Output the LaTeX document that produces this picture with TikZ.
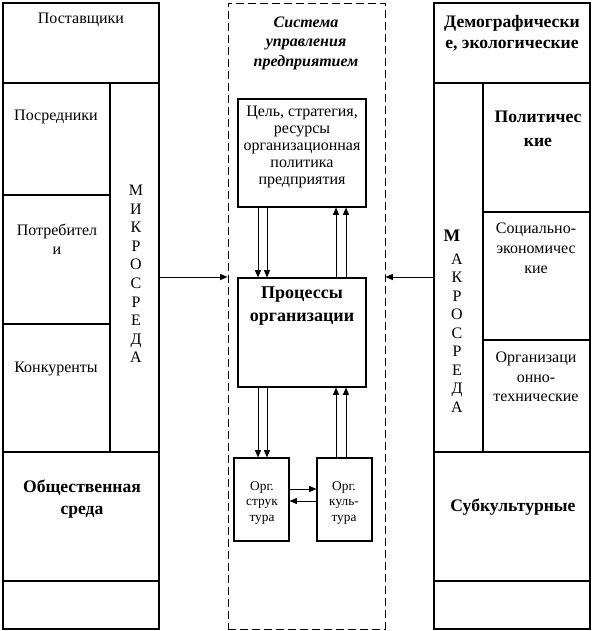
\documentclass[tikz,border=0pt]{standalone}
\usepackage{fontspec}
\setmainfont{Liberation Serif}
\usetikzlibrary{positioning,arrows.meta,fit}
\tikzset{
  cell/.style={draw, line width=0.8pt, inner sep=0pt},
  sysbox/.style={draw, line width=0.7pt, dash pattern=on 6pt off 3pt, inner sep=0pt},
  txt/.style={align=center, inner sep=0pt, font=\fontsize{12}{14}\selectfont},
  btxt/.style={align=center, inner sep=0pt, font=\bfseries\fontsize{13.2}{16.5}\selectfont},
  smtxt/.style={align=center, inner sep=0pt, font=\fontsize{10}{11.3}\selectfont},
  vert/.style={align=center, inner sep=0pt, font=\fontsize{12}{13.9}\selectfont},
  ttl/.style={align=center, inner sep=0pt, font=\bfseries\itshape\fontsize{12}{14.6}\selectfont},
  arr/.style={line width=0.7pt, -{Triangle[length=5.5pt,width=4.5pt]}},
}
\begin{document}
\begin{tikzpicture}[x=0.75pt, y=-0.75pt]
  \useasboundingbox (0,0) rectangle (594,631);
  % left column: micro environment
  \node[cell, fit={(3,3) (159,83)}] (post) {};
  \node[cell, fit={(3,83) (110,195)}] (posr) {};
  \node[cell, fit={(3,195) (110,324)}] (potr) {};
  \node[cell, fit={(3,324) (110,452)}] (konk) {};
  \node[cell, fit={(110,83) (159,452)}] (mikro) {};
  \node[cell, fit={(3,452) (159,581)}] (obsh) {};
  \node[cell, fit={(3,581) (159,629)}] (lfoot) {};
  \node[txt] (t-post) at (81,20) {Поставщики};
  \node[txt] (t-posr) at (56,117) {Посредники};
  \node[txt] (t-potr) at (57,239) {Потребител\\и};
  \node[txt] (t-konk) at (56,369) {Конкуренты};
  \node[vert] (t-mikro) at (136,274) {М\\И\\К\\Р\\О\\С\\Р\\Е\\Д\\А};
  \node[btxt] (t-obsh) at (82,499) {Общественная\\среда};
  % centre: management system
  \node[sysbox, fit={(228,3) (385,629)}] (sys) {};
  \node[ttl] (t-sys) at (306,43) {Система\\управления\\предприятием};
  \node[cell, fit={(238,99) (366,207)}] (goal) {};
  \node[txt, font=\fontsize{12}{12.8}\selectfont] (t-goal) at (302,147)
       {Цель, стратегия,\\ресурсы\\организационная\\политика\\предприятия};
  \node[cell, fit={(238,278) (366,387)}] (proc) {};
  \node[btxt, font=\bfseries\fontsize{13.5}{17.3}\selectfont] (t-proc) at (302,306) {Процессы\\организации};
  \node[cell, fit={(234,458) (289,541)}] (struct) {};
  \node[cell, fit={(317,458) (372,541)}] (cult) {};
  \node[smtxt] (t-struct) at (262,503) {Орг.\\струк\\тура};
  \node[smtxt] (t-cult) at (344,503) {Орг.\\куль-\\тура};
  % right column: macro environment
  \node[cell, fit={(434,3) (590,83)}] (demo) {};
  \node[cell, fit={(434,83) (483,452)}] (makro) {};
  \node[cell, fit={(483,83) (590,212)}] (polit) {};
  \node[cell, fit={(483,212) (590,340)}] (soc) {};
  \node[cell, fit={(483,340) (590,452)}] (orgt) {};
  \node[cell, fit={(434,452) (590,581)}] (subk) {};
  \node[cell, fit={(434,581) (590,629)}] (rfoot) {};
  \node[btxt, font=\bfseries\fontsize{13.2}{15.8}\selectfont] (t-demo) at (512,33) {Демографически\\е, экологические};
  \node[btxt, font=\bfseries\fontsize{13.2}{18}\selectfont] (t-polit) at (538,129) {Политичес\\кие};
  \node[btxt] (t-m) at (452,236) {М};
  \node[vert] (t-akro) at (457,333) {А\\К\\Р\\О\\С\\Р\\Е\\Д\\А};
  \node[txt, font=\fontsize{12}{15}\selectfont] (t-soc) at (536,248) {Социально-\\экономичес\\кие};
  \node[txt, font=\fontsize{12}{14.5}\selectfont] (t-orgt) at (536,377) {Организаци\\онно-\\технические};
  \node[btxt] (t-subk) at (513,507) {Субкультурные};
  % arrows into the system
  \draw[arr] (mikro.east |- 0,277) -- (sys.west |- 0,277);
  \draw[arr] (makro.west |- 0,277) -- (sys.east |- 0,277);
  % goal <-> processes
  \draw[arr] (goal.south -| 258,0) -- (proc.north -| 258,0);
  \draw[arr] (goal.south -| 267,0) -- (proc.north -| 267,0);
  \draw[arr] (proc.north -| 336,0) -- (goal.south -| 336,0);
  \draw[arr] (proc.north -| 346,0) -- (goal.south -| 346,0);
  % processes <-> structure, culture
  \draw[arr] (proc.south -| 258,0) -- (struct.north -| 258,0);
  \draw[arr] (proc.south -| 267,0) -- (struct.north -| 267,0);
  \draw[arr] (cult.north -| 336,0) -- (proc.south -| 336,0);
  \draw[arr] (cult.north -| 346,0) -- (proc.south -| 346,0);
  \draw[arr] (struct.east |- 0,489) -- (cult.west |- 0,489);
  \draw[arr] (cult.west |- 0,501) -- (struct.east |- 0,501);
\end{tikzpicture}
\end{document}
